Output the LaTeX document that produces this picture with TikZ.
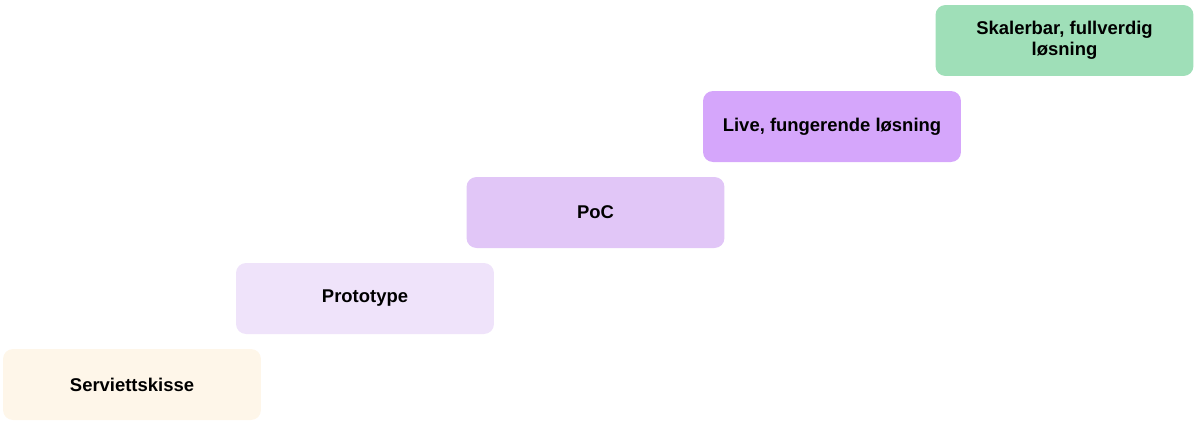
\documentclass[tikz,border=0pt]{standalone}
\usepackage{fontspec}
\setmainfont{Liberation Sans}
\definecolor{napkin}{HTML}{FEF6E9}
\definecolor{proto}{HTML}{EFE3FA}
\definecolor{poc}{HTML}{E1C6F7}
\definecolor{live}{HTML}{D5A6FB}
\definecolor{scale}{HTML}{9FDFB8}

\begin{document}
\begin{tikzpicture}[x=0.02cm,y=-0.02cm,
  stage/.style={rectangle,rounded corners=0.2cm,minimum width=5.16cm,minimum height=1.42cm,
    inner sep=0pt,align=center,font=\fontsize{10.5pt}{12pt}\selectfont\bfseries}]
\useasboundingbox (0,0) rectangle (1200,427);
\node[stage,fill=napkin] (skisse) at (132,384.5) {Serviettskisse};
\node[stage,fill=proto] (proto) at (365,298.5) {Prototype};
\node[stage,fill=poc] (poc) at (595.5,212.5) {PoC};
\node[stage,fill=live] (live) at (832,126.5) {Live, fungerende løsning};
\node[stage,fill=scale] (skalerbar) at (1064.5,40.5) {Skalerbar, fullverdig\\løsning};
\end{tikzpicture}
\end{document}
